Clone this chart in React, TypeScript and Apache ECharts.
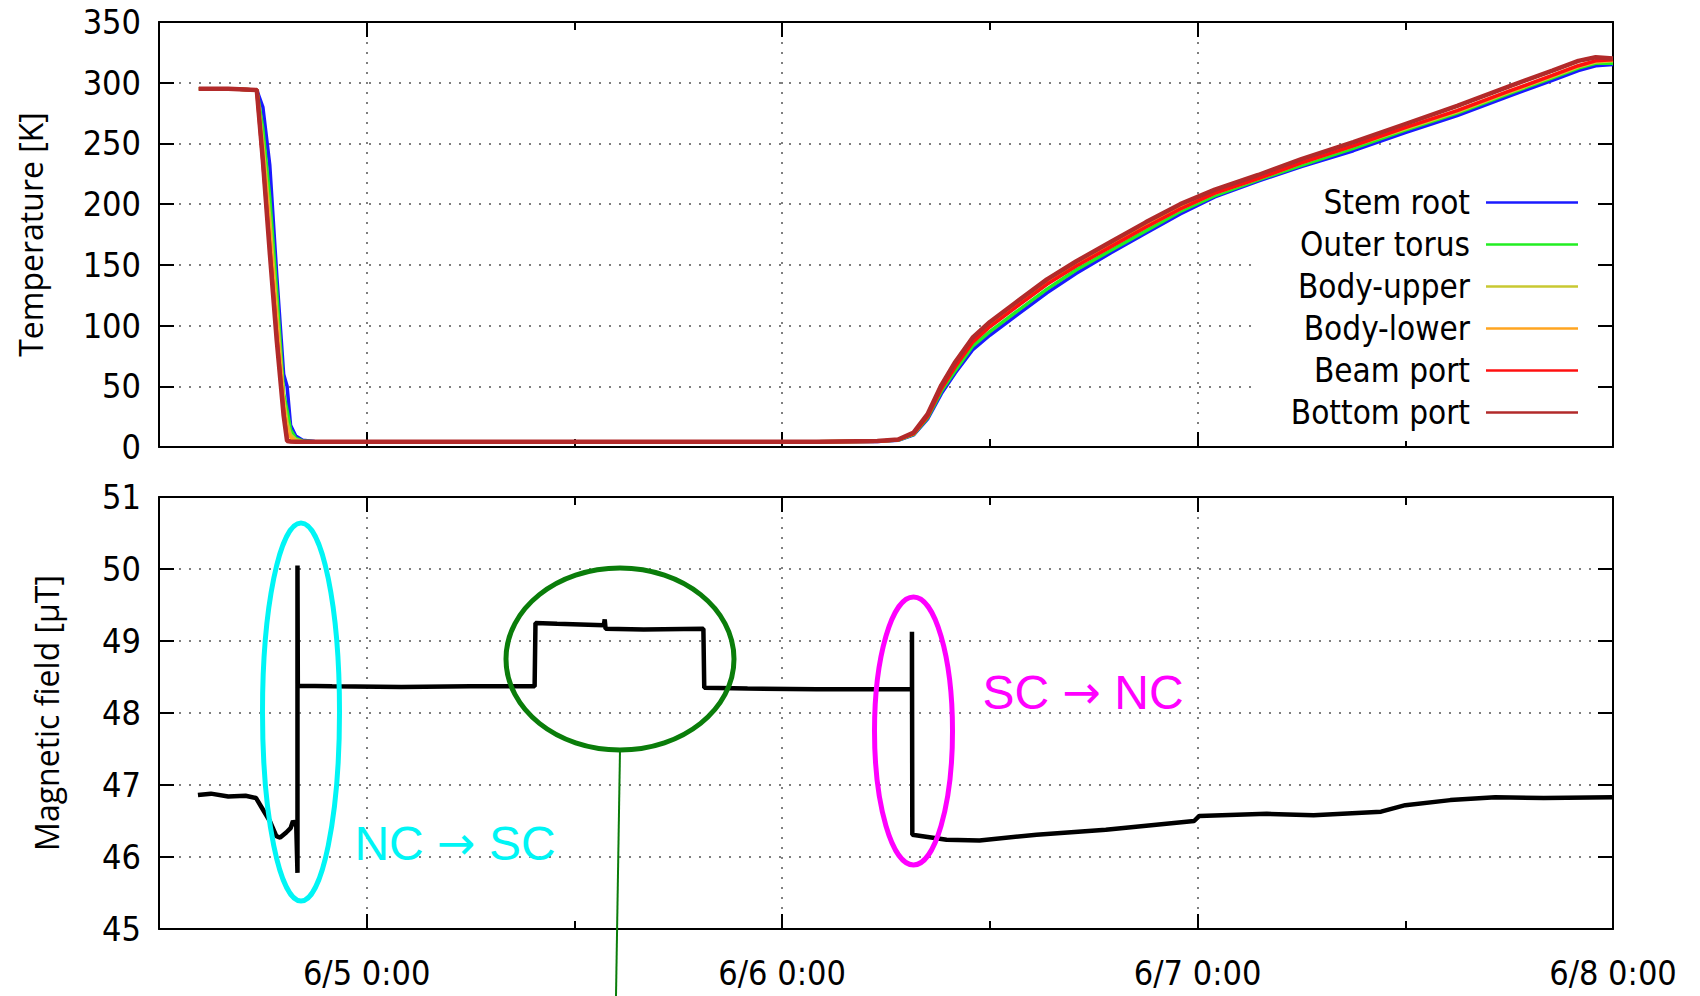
import React, { useEffect, useRef } from "react";
import * as echarts from "echarts";

// ---------- data (hours since 6/4 0:00) ----------
const tempHours = [14.3, 16.0, 17.65, 18.0, 18.4, 18.8, 19.2, 19.4, 19.6, 19.9, 20.3, 21.0, 30, 40, 50, 53.5, 54.7, 55.6, 56.4, 57.2, 58.0, 59.0, 60.0, 61.5, 63.3, 65.0, 67.0, 69.0, 71.0, 73.0, 75.5, 78.0, 81.0, 84.0, 87.0, 90.0, 92.5, 94.0, 95.0, 96.0];

const stemRoot = [295, 295, 294, 280, 232, 142, 60, 50, 18, 9, 5.5, 4.5, 4.2, 4.2, 4.3, 4.6, 5.5, 10, 23, 44, 61, 80, 92, 108, 127, 143, 160, 176, 192, 206, 219, 231, 244, 259, 273, 289, 302, 310, 314, 315];
const outerTorus = [295, 295, 294, 262, 205, 128, 44, 30, 14, 7, 5, 4.4, 4.2, 4.2, 4.3, 4.7, 5.7, 10.5, 24, 46, 63, 83, 95, 111, 130, 146, 162, 178, 194, 207, 220, 232, 246, 261, 275, 291, 304, 312, 316, 316];
const bodyUpper = [295, 295, 294, 250, 188, 112, 40, 20, 10, 6, 4.6, 4.3, 4.2, 4.2, 4.3, 4.8, 5.9, 11, 26, 49, 68, 88, 100, 116, 135, 150, 166, 181, 196, 209, 221, 234, 248, 262, 276, 292, 305, 313, 317, 318];
const bodyLower = [295, 295, 294, 245, 180, 104, 35, 14, 8, 5, 4.4, 4.3, 4.2, 4.2, 4.3, 4.8, 6, 11, 26, 50, 69, 89, 101, 117, 136, 151, 167, 182, 197, 210, 222, 235, 249, 263, 277, 293, 306, 314, 318, 319];
const beamPort = [295, 295, 294, 235, 165, 92, 30, 6, 4.5, 4.3, 4.2, 4.2, 4.2, 4.2, 4.3, 4.8, 6, 11, 25, 48, 66, 86, 99, 115, 134, 149, 165, 181, 196, 209, 221, 234, 248, 263, 277, 293, 306, 314, 318, 319];
const bottomPort = [295, 295, 294, 236, 160, 88, 26, 5, 4.5, 4.3, 4.3, 4.3, 4.3, 4.3, 4.4, 4.9, 6.2, 12, 27, 51, 70, 90, 103, 119, 138, 153, 169, 185, 200, 212, 224, 237, 251, 266, 281, 297, 310, 318, 321, 320];

const tempNames = ["Stem root", "Outer torus", "Body-upper", "Body-lower", "Beam port", "Bottom port"];
const tempColors = ["#1a1aff", "#22ee22", "#c8c832", "#ffa520", "#ff1010", "#b22a2a"];
const tempSeries = [stemRoot, outerTorus, bodyUpper, bodyLower, beamPort, bottomPort];

const magHours = [14.25, 15.0, 16.0, 17.0, 17.6, 18.0, 18.4, 18.78, 19.0, 19.35, 19.6, 19.74, 19.93, 20.0, 20.0, 20.02, 22, 26, 30, 33.7, 33.75, 35, 37.7, 37.75, 37.8, 40, 43.45, 43.5, 46, 50, 55.5, 55.5, 55.52, 57.5, 59.4, 62.7, 66.7, 71.8, 72.1, 76, 78.7, 82.6, 84, 86.6, 89.2, 92, 96];
const magValues = [46.86, 46.88, 46.84, 46.85, 46.82, 46.66, 46.5, 46.29, 46.27, 46.34, 46.4, 46.5, 46.43, 45.78, 50.05, 48.38, 48.37, 48.36, 48.37, 48.37, 49.25, 49.24, 49.22, 49.3, 49.17, 49.16, 49.17, 48.35, 48.34, 48.33, 48.33, 49.13, 46.31, 46.24, 46.23, 46.31, 46.38, 46.5, 46.57, 46.6, 46.58, 46.63, 46.72, 46.79, 46.83, 46.82, 46.83];

const dayTicks = [24, 48, 72];
const halfDayTicks = [36, 60, 84];
const dayLabels = [24, 48, 72, 96];
const tempTicks = { min: 0, max: 350, interval: 50 };
const magTicks = { min: 45, max: 51, interval: 1 };

const TICK_FONT = "'DejaVu Sans Condensed', 'Liberation Sans Narrow', 'DejaVu Sans', sans-serif";
const TITLE_FONT = "'Open Sans', 'Noto Sans', sans-serif";
const ANNO_FONT = "'Liberation Sans', Arial, sans-serif";
const ARROW_FONT = "'DejaVu Sans', sans-serif";

const dotted = { color: "#555", width: 1.5, type: [2, 8] as number[] };
const black = { color: "#000", width: 2 };

function xAxesFor(grid: number, withLabels: boolean) {
  const base = { type: "value", gridIndex: grid, min: 12, max: 96, interval: 12 };
  return [
    {
      ...base,
      position: "bottom",
      axisLine: { show: true, lineStyle: black },
      axisTick: { show: true, inside: true, length: 15, customValues: dayTicks, lineStyle: black },
      axisLabel: {
        show: withLabels,
        customValues: dayLabels,
        showMaxLabel: true,
        margin: 27,
        fontSize: 34,
        fontFamily: TICK_FONT,
        color: "#000",
        formatter: (v: number) => `6/${4 + Math.round(v / 24)} 0:00`,
      },
      splitLine: { show: true, lineStyle: dotted },
    },
    {
      ...base,
      position: "bottom",
      axisLine: { show: false },
      axisTick: { show: true, inside: true, length: 8, customValues: halfDayTicks, lineStyle: black },
      axisLabel: { show: false },
      splitLine: { show: false },
    },
    {
      ...base,
      position: "top",
      axisLine: { show: true, lineStyle: black },
      axisTick: { show: true, inside: true, length: 15, customValues: dayTicks, lineStyle: black },
      axisLabel: { show: false },
      splitLine: { show: false },
    },
    {
      ...base,
      position: "top",
      axisLine: { show: false },
      axisTick: { show: true, inside: true, length: 8, customValues: halfDayTicks, lineStyle: black },
      axisLabel: { show: false },
      splitLine: { show: false },
    },
  ];
}

function yAxesFor(grid: number, ticks: { min: number; max: number; interval: number }, name: string, nameGap: number) {
  return [
    {
      type: "value",
      gridIndex: grid,
      position: "left",
      ...ticks,
      name,
      nameLocation: "middle",
      nameGap,
      nameTextStyle: { fontSize: 32, fontFamily: TITLE_FONT, color: "#000" },
      axisLine: { show: true, lineStyle: black },
      axisTick: { show: true, inside: true, length: 15, lineStyle: black },
      axisLabel: { fontSize: 34, fontFamily: TICK_FONT, color: "#000", margin: 18 },
      splitLine: { show: true, lineStyle: dotted },
    },
    {
      type: "value",
      gridIndex: grid,
      position: "right",
      ...ticks,
      axisLine: { show: true, lineStyle: black },
      axisTick: { show: true, inside: true, length: 15, lineStyle: black },
      axisLabel: { show: false },
      splitLine: { show: false },
    },
  ];
}

function annotation(left: string, right: string, color: string) {
  return {
    text: `{a|${left}} {b|→} {a|${right}}`,
    fill: color,
    align: "center",
    verticalAlign: "middle",
    rich: {
      a: { fontSize: 48, fontFamily: ANNO_FONT, fill: color, color },
      b: { fontSize: 46, fontFamily: ARROW_FONT, fill: color, color },
    },
    font: `48px ${ANNO_FONT}`,
  };
}

export default function App() {
  const ref = useRef<HTMLDivElement>(null);
  useEffect(() => {
    if (!ref.current) return;
    const chart = echarts.init(ref.current, undefined, { renderer: "svg" });
    const series: any[] = tempSeries.map((vals, i) => ({
      type: "line",
      name: tempNames[i],
      xAxisIndex: 0,
      yAxisIndex: 0,
      symbol: "none",
      data: tempHours.map((h, j) => [h, vals[j]]),
      lineStyle: { color: tempColors[i], width: i === 5 ? 4.5 : 3.5 },
      itemStyle: { color: tempColors[i] },
      z: 2 + i,
    }));
    series.push({
      type: "line",
      name: "Magnetic field",
      xAxisIndex: 4,
      yAxisIndex: 2,
      symbol: "none",
      data: magHours.map((h, j) => [h, magValues[j]]),
      lineStyle: { color: "#000", width: 4.5 },
      itemStyle: { color: "#000" },
    });

    chart.setOption({
      animation: false,
      backgroundColor: "#fff",
      grid: [
        { left: 159, width: 1454, top: 22, height: 425, outerBoundsMode: "none" },
        { left: 159, width: 1454, top: 497, height: 432, outerBoundsMode: "none" },
      ],
      xAxis: [...xAxesFor(0, false), ...xAxesFor(1, true)],
      yAxis: [
        ...yAxesFor(0, tempTicks, "Temperature [K]", 113),
        ...yAxesFor(1, magTicks, "Magnetic field [μT]", 97),
      ],
      legend: {
        data: tempNames,
        orient: "vertical",
        align: "right",
        right: 104,
        top: 186,
        icon: "rect",
        itemWidth: 92,
        itemHeight: 2.5,
        itemGap: 9,
        padding: [0, 18, 12, 34],
        backgroundColor: "#fff",
        selectedMode: false,
        textStyle: { fontSize: 33, fontFamily: TICK_FONT, color: "#000", padding: [0, 11, 0, 0] },
      },
      graphic: [
        { type: "ellipse", z: 100, shape: { cx: 301, cy: 712, rx: 38.5, ry: 189 }, style: { fill: "none", stroke: "#00f5f5", lineWidth: 5 } },
        { type: "ellipse", z: 100, shape: { cx: 620, cy: 659, rx: 114, ry: 91 }, style: { fill: "none", stroke: "#0a7d0a", lineWidth: 5 } },
        { type: "line", z: 100, shape: { x1: 620, y1: 750, x2: 616, y2: 996 }, style: { stroke: "#0a7d0a", lineWidth: 2 } },
        { type: "ellipse", z: 100, shape: { cx: 913.5, cy: 731, rx: 39, ry: 134 }, style: { fill: "none", stroke: "#ff00ff", lineWidth: 5 } },
        { type: "text", z: 100, x: 455, y: 843, style: annotation("NC", "SC", "#00f5f5") },
        { type: "text", z: 100, x: 1083, y: 692, style: annotation("SC", "NC", "#ff00ff") },
      ],
      series,
    });
    return () => chart.dispose();
  }, []);
  return <div ref={ref} style={{ position: "fixed", left: 0, top: 0, width: 1700, height: 996 }} />;
}
